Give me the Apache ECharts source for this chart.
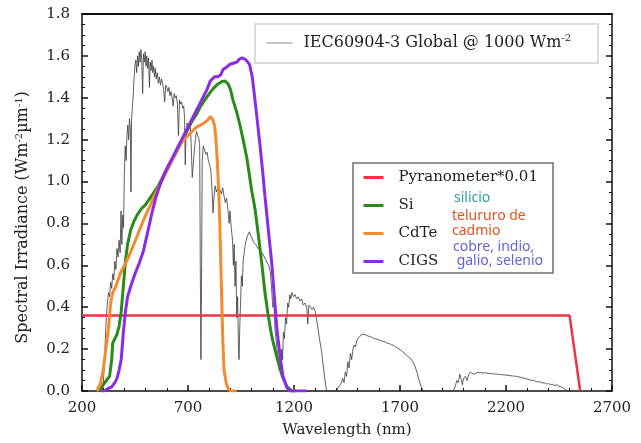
<!DOCTYPE html>
<html>
<head>
<meta charset="UTF-8">
<title>Spectral irradiance</title>
<script src="https://cdn.jsdelivr.net/npm/echarts@6/dist/echarts.min.js"></script>
<style>
  html, body { margin: 0; padding: 0; background: #fff; }
  #main { width: 641px; height: 443px; }
</style>
</head>
<body>
<div id="main"></div>
<script>
// ticks
var xTicks = [200, 700, 1200, 1700, 2200, 2700];
var yTicks = [0, 0.2, 0.4, 0.6, 0.8, 1.0, 1.2, 1.4, 1.6, 1.8];

// IEC60904-3 global spectrum [nm, value]
var iecData = [[280,0],[295,0],[300,0.03],[305,0.12],[310,0.25],[315,0.36],[320,0.42],[325,0.47],[330,0.45],[335,0.52],[340,0.49],[345,0.56],[350,0.53],[355,0.62],[360,0.58],[365,0.68],[370,0.64],[375,0.72],[380,0.66],[384,0.86],[388,0.7],[392,0.84],[396,0.78],[400,1.05],[404,1.17],[408,1.1],[412,1.22],[416,1.27],[420,1.2],[424,1.3],[428,1.25],[431,0.95],[434,1.3],[438,1.36],[442,1.42],[446,1.5],[450,1.56],[454,1.58],[458,1.52],[462,1.6],[466,1.55],[470,1.62],[474,1.57],[478,1.63],[482,1.58],[486,1.42],[490,1.61],[494,1.57],[498,1.62],[502,1.55],[506,1.6],[510,1.54],[514,1.59],[518,1.45],[522,1.57],[526,1.53],[530,1.58],[534,1.52],[538,1.55],[542,1.5],[546,1.54],[550,1.49],[555,1.52],[560,1.47],[565,1.5],[570,1.46],[575,1.49],[580,1.47],[585,1.44],[590,1.38],[595,1.46],[600,1.45],[605,1.43],[610,1.45],[615,1.41],[620,1.43],[625,1.4],[630,1.36],[635,1.42],[640,1.4],[645,1.41],[650,1.37],[655,1.22],[660,1.39],[665,1.37],[670,1.38],[675,1.35],[680,1.36],[684,1.3],[687,1.08],[690,1.2],[695,1.28],[700,1.27],[705,1.25],[710,1.28],[715,1.18],[720,1.02],[725,1.08],[730,1.15],[735,1.2],[740,1.24],[745,1.22],[750,1.21],[755,1.18],[758,0.6],[761,0.15],[764,0.55],[767,1.1],[772,1.17],[778,1.15],[784,1.13],[790,1.14],[796,1.1],[802,1.08],[808,1.05],[814,0.95],[818,0.85],[822,0.92],[828,0.98],[834,0.95],[840,0.97],[846,0.93],[852,0.96],[858,0.94],[864,0.97],[870,0.93],[876,0.9],[882,0.92],[888,0.87],[894,0.8],[898,0.86],[904,0.78],[910,0.72],[914,0.6],[918,0.7],[922,0.5],[926,0.62],[930,0.35],[934,0.45],[938,0.2],[941,0.15],[944,0.3],[948,0.42],[952,0.55],[956,0.5],[960,0.62],[965,0.66],[970,0.7],[975,0.72],[980,0.74],[985,0.75],[990,0.76],[996,0.74],[1002,0.73],[1010,0.71],[1020,0.7],[1030,0.68],[1040,0.67],[1050,0.66],[1060,0.64],[1070,0.62],[1080,0.6],[1088,0.57],[1095,0.48],[1100,0.4],[1106,0.42],[1110,0.3],[1115,0.25],[1120,0.2],[1125,0.16],[1130,0.1],[1134,0.14],[1138,0.08],[1142,0.2],[1146,0.15],[1150,0.28],[1155,0.25],[1160,0.35],[1165,0.32],[1170,0.42],[1175,0.4],[1180,0.46],[1185,0.44],[1190,0.47],[1198,0.45],[1205,0.46],[1212,0.44],[1220,0.45],[1228,0.43],[1236,0.44],[1244,0.41],[1252,0.42],[1260,0.4],[1265,0.32],[1270,0.41],[1278,0.4],[1285,0.39],[1292,0.4],[1300,0.38],[1310,0.32],[1320,0.25],[1330,0.19],[1338,0.12],[1345,0.06],[1352,0.01],[1358,0],[1400,0],[1410,0.02],[1420,0.03],[1430,0.06],[1436,0.04],[1442,0.09],[1448,0.07],[1454,0.14],[1460,0.11],[1466,0.18],[1472,0.15],[1478,0.2],[1484,0.22],[1490,0.21],[1496,0.24],[1502,0.25],[1510,0.26],[1518,0.27],[1526,0.275],[1534,0.27],[1542,0.268],[1550,0.262],[1560,0.26],[1570,0.255],[1580,0.25],[1590,0.248],[1600,0.244],[1610,0.24],[1620,0.237],[1630,0.235],[1640,0.228],[1650,0.226],[1660,0.22],[1670,0.218],[1680,0.21],[1690,0.205],[1700,0.198],[1710,0.19],[1720,0.18],[1730,0.172],[1740,0.163],[1750,0.155],[1760,0.14],[1770,0.12],[1780,0.09],[1790,0.05],[1800,0.02],[1810,0],[1950,0],[1960,0.02],[1968,0.05],[1975,0.04],[1982,0.08],[1988,0.06],[1994,0.03],[2000,0.06],[2008,0.07],[2016,0.05],[2024,0.08],[2032,0.09],[2040,0.095],[2048,0.08],[2056,0.085],[2064,0.088],[2072,0.09],[2080,0.088],[2090,0.086],[2100,0.087],[2110,0.085],[2120,0.084],[2130,0.083],[2140,0.082],[2150,0.081],[2160,0.08],[2170,0.079],[2180,0.078],[2190,0.077],[2200,0.076],[2210,0.075],[2220,0.073],[2230,0.072],[2240,0.071],[2250,0.07],[2260,0.067],[2270,0.065],[2280,0.062],[2290,0.06],[2300,0.057],[2310,0.054],[2320,0.05],[2330,0.052],[2340,0.046],[2350,0.043],[2360,0.045],[2370,0.038],[2380,0.04],[2390,0.033],[2400,0.036],[2410,0.03],[2420,0.032],[2430,0.026],[2440,0.03],[2450,0.022],[2460,0.02],[2470,0.014],[2480,0.008],[2490,0]];

// pyranometer response * 0.01
var pyraData = [[200,0.36],[2500,0.36],[2550,0]];

// Si
var siData = [[280,0],[290,0.01],[300,0.03],[315,0.05],[330,0.07],[340,0.15],[345,0.23],[355,0.25],[365,0.27],[375,0.31],[385,0.38],[395,0.5],[405,0.62],[415,0.7],[430,0.77],[445,0.81],[460,0.84],[480,0.87],[500,0.89],[520,0.92],[540,0.95],[560,0.98],[580,1.02],[600,1.06],[620,1.1],[640,1.13],[660,1.17],[680,1.21],[700,1.25],[720,1.29],[740,1.32],[760,1.36],[780,1.39],[800,1.42],[820,1.445],[840,1.465],[860,1.478],[875,1.48],[890,1.465],[900,1.44],[912,1.39],[930,1.33],[945,1.27],[960,1.2],[978,1.11],[1000,0.96],[1016,0.87],[1030,0.76],[1049,0.6],[1063,0.47],[1077,0.37],[1090,0.29],[1100,0.24],[1112,0.19],[1125,0.14],[1145,0.07],[1167,0.02],[1190,0],[1210,0]];

// CdTe
var cdteData = [[270,0],[285,0.03],[300,0.1],[315,0.22],[325,0.3],[335,0.42],[345,0.47],[360,0.5],[380,0.56],[400,0.6],[420,0.64],[440,0.69],[460,0.74],[480,0.79],[500,0.84],[520,0.88],[540,0.93],[560,0.97],[580,1.01],[600,1.05],[620,1.09],[640,1.13],[660,1.17],[680,1.2],[700,1.22],[720,1.24],[740,1.26],[760,1.27],[775,1.28],[790,1.29],[805,1.31],[815,1.3],[825,1.27],[832,1.2],[838,1.1],[845,0.95],[850,0.8],[855,0.6],[860,0.4],[865,0.22],[870,0.1],[880,0.04],[890,0.01],[900,0],[930,0]];

// CIGS
var cigsData = [[290,0],[305,0],[320,0.01],[340,0.02],[355,0.04],[365,0.06],[375,0.1],[385,0.15],[395,0.28],[405,0.38],[415,0.45],[430,0.5],[450,0.56],[470,0.61],[490,0.67],[510,0.76],[530,0.85],[550,0.93],[570,0.99],[590,1.04],[610,1.08],[630,1.12],[650,1.16],[670,1.2],[690,1.24],[710,1.28],[730,1.32],[750,1.36],[770,1.4],[790,1.44],[805,1.48],[815,1.49],[825,1.5],[840,1.5],[855,1.51],[865,1.535],[880,1.545],[898,1.56],[915,1.565],[930,1.57],[943,1.585],[955,1.59],[968,1.585],[978,1.575],[990,1.56],[1003,1.5],[1016,1.39],[1028,1.28],[1040,1.17],[1052,1.05],[1063,0.93],[1080,0.76],[1096,0.6],[1108,0.44],[1120,0.29],[1135,0.16],[1148,0.07],[1165,0.02],[1180,0],[1260,0]];

var seriesNames = ['IEC60904-3 Global @ 1000 Wm-2', 'Pyranometer*0.01', 'Si', 'CdTe', 'CIGS'];
var seriesColors = ['#3a3a3a', '#ee3348', '#2b8a1c', '#f58a2e', '#8a2be8'];
var notes = [['silicio'], ['telururo de', 'cadmio'], ['cobre, indio,', ' galio, selenio']];
var noteColors = ['#2ea39c', '#e2531d', '#6464d6'];

var serif = 'DejaVu Serif';
var myChart = echarts.init(document.getElementById('main'));

function lineSeries(i, data, width, z, opacity) {
  return {
    name: seriesNames[i],
    type: 'line',
    data: data,
    symbol: 'none',
    z: z,
    lineStyle: { color: seriesColors[i], width: width, opacity: opacity },
    itemStyle: { color: seriesColors[i] }
  };
}

var option = {
  animation: false,
  backgroundColor: '#fff',
  grid: { left: 82, right: 29, top: 14, bottom: 49 },
  legend: [
    {
      data: [seriesNames[0]],
      left: 266, top: 33, padding: 0,
      itemWidth: 26, itemHeight: 14,
      itemStyle: { opacity: 0 },
      lineStyle: { width: 1, opacity: 0.6 },
      formatter: function () { return '{t|IEC60904-3 Global @ 1000 Wm}{s|-2}'; },
      textStyle: {
        fontFamily: serif, fontSize: 16, color: '#222', padding: [0, 0, 0, 6],
        rich: {
          t: { fontFamily: serif, fontSize: 16, color: '#222', lineHeight: 20 },
          s: { fontFamily: serif, fontSize: 10, color: '#222', lineHeight: 12, verticalAlign: 'top' }
        }
      }
    },
    {
      data: seriesNames.slice(1),
      orient: 'vertical',
      left: 362, top: 170, padding: 0,
      itemWidth: 20, itemHeight: 14, itemGap: 13,
      itemStyle: { opacity: 0 },
      lineStyle: { width: 3 },
      textStyle: { fontFamily: serif, fontSize: 15, color: '#222', padding: [0, 0, 0, 10] }
    }
  ],
  xAxis: [
    {
      type: 'value', min: xTicks[0], max: xTicks[xTicks.length - 1], interval: 500,
      name: 'Wavelength (nm)', nameLocation: 'middle', nameGap: 32,
      nameTextStyle: { fontFamily: serif, fontSize: 15, color: '#222' },
      axisLine: { lineStyle: { color: '#111', width: 1.5 } },
      axisTick: { inside: true, length: 6, lineStyle: { color: '#111', width: 1.5 } },
      minorTick: { show: true, splitNumber: 5, length: 3, lineStyle: { color: '#111', width: 1 } },
      splitLine: { show: false },
      axisLabel: { fontFamily: serif, fontSize: 15, color: '#222', margin: 10,
        formatter: function (v) { return String(v); } }
    },
    {
      type: 'value', position: 'top', min: xTicks[0], max: xTicks[xTicks.length - 1],
      axisLine: { show: true, onZero: false, lineStyle: { color: '#111', width: 2 } },
      axisTick: { show: false }, axisLabel: { show: false }, splitLine: { show: false }
    }
  ],
  yAxis: [
    {
      type: 'value', min: yTicks[0], max: yTicks[yTicks.length - 1], interval: 0.2,
      name: 'Spectral Irradiance (Wm{s|-2}µm{s|-1})', nameLocation: 'middle', nameGap: 50,
      nameTextStyle: {
        fontFamily: serif, fontSize: 16, color: '#222', lineHeight: 18, padding: [0, 30, 0, 0],
        rich: { s: { fontFamily: serif, fontSize: 10, color: '#222', lineHeight: 10, verticalAlign: 'top' } }
      },
      axisLine: { lineStyle: { color: '#111', width: 1.5 } },
      axisTick: { inside: true, length: 6, lineStyle: { color: '#111', width: 1.5 } },
      minorTick: { show: true, splitNumber: 4, length: 3, lineStyle: { color: '#111', width: 1 } },
      splitLine: { show: false },
      axisLabel: { fontFamily: serif, fontSize: 15, color: '#222', margin: 12,
        formatter: function (v) { return v.toFixed(1); } }
    },
    {
      type: 'value', position: 'right', min: yTicks[0], max: yTicks[yTicks.length - 1], interval: 0.2,
      axisLine: { show: true, onZero: false, lineStyle: { color: '#111', width: 1.5 } },
      axisTick: { inside: true, length: 6, lineStyle: { color: '#111', width: 1.5 } },
      minorTick: { show: true, splitNumber: 4, length: 3, lineStyle: { color: '#111', width: 1 } },
      splitLine: { show: false }, axisLabel: { show: false }
    }
  ],
  graphic: [
    { type: 'rect', z: 1, shape: { x: 255, y: 24, width: 343, height: 39 }, style: { fill: 'none', stroke: '#cfcfcf', lineWidth: 1.5 } },
    { type: 'rect', z: 1, shape: { x: 353, y: 163, width: 200, height: 110 }, style: { fill: 'none', stroke: '#6f6f6f', lineWidth: 1.5 } },
    { type: 'text', left: 454, top: 191, z: 10, style: { text: notes[0].join('\n'), fill: noteColors[0], font: '14px "Noto Sans"', lineHeight: 15 } },
    { type: 'text', left: 452, top: 209, z: 10, style: { text: notes[1].join('\n'), fill: noteColors[1], font: '14px "Noto Sans"', lineHeight: 15 } },
    { type: 'text', left: 453, top: 240, z: 10, style: { text: notes[2].join('\n'), fill: noteColors[2], font: '14px "Noto Sans"', lineHeight: 14 } }
  ],
  series: [
    lineSeries(0, iecData, 1, 2, 0.8),
    lineSeries(1, pyraData, 2.5, 3, 1),
    lineSeries(2, siData, 3, 4, 1),
    lineSeries(3, cdteData, 3, 5, 1),
    lineSeries(4, cigsData, 3, 6, 1)
  ]
};
myChart.setOption(option);
</script>
</body>
</html>
